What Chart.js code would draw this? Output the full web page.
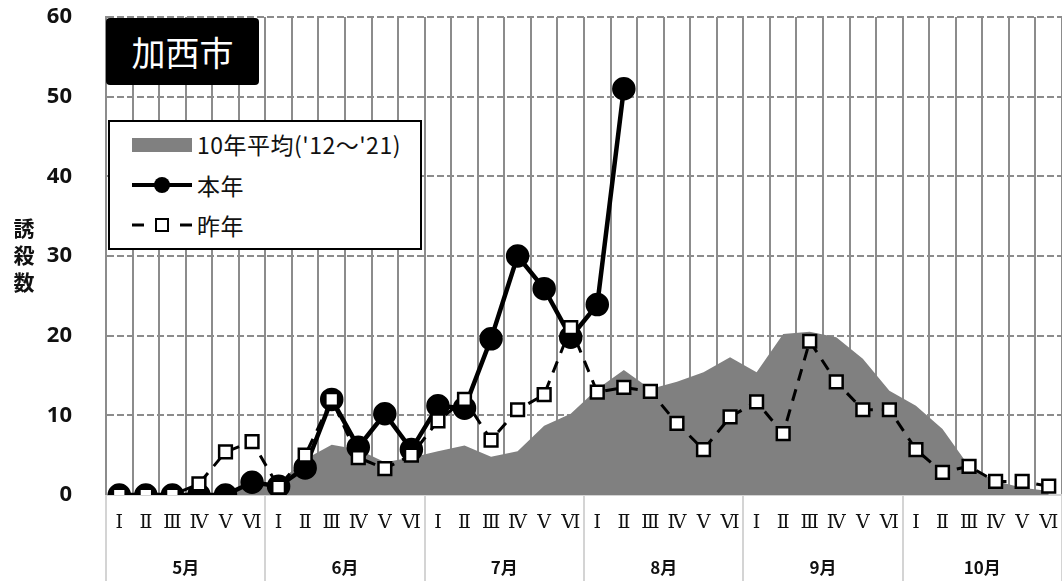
<!DOCTYPE html>
<html>
<head>
<meta charset="utf-8">
<script src="https://cdn.jsdelivr.net/npm/chart.js@4/dist/chart.umd.min.js"></script>
<style>
  html, body { margin: 0; padding: 0; background: #fff; }
  #wrap { position: relative; width: 1062px; height: 581px; font-family: "Noto Sans CJK JP", "Noto Sans", sans-serif; }
  #bp { position: absolute; left: 0; top: 0; }
  #city {
    position: absolute; left: 106px; top: 18px; width: 153px; height: 67px;
    background: #000; color: #fff; border-radius: 4px;
    font-size: 34px; line-height: 67px; text-align: center;
  }
  #ytitle {
    position: absolute; left: 12px; top: 214px; width: 24px;
    font-size: 21px; font-weight: bold; line-height: 27px; text-align: center; color: #111;
  }
  #legend {
    position: absolute; left: 108px; top: 120px; width: 310px; height: 126px;
    border: 2px solid #000; background: #fff; font-size: 23px; color: #111;
  }
  .row { position: absolute; left: 0; height: 30px; line-height: 30px; }
  .row span { position: absolute; left: 87px; white-space: nowrap; letter-spacing: 0.5px; }
  .row svg { position: absolute; left: 20px; top: 0; }
</style>
</head>
<body>
<div id="wrap">
  <canvas id="bp" width="1062" height="581"></canvas>
  <div id="city">加西市</div>
  <div id="ytitle">誘<br>殺<br>数</div>
  <div id="legend">
    <div class="row" style="top:7px">
      <svg width="64" height="30"><rect x="2" y="9" width="60" height="14" fill="#808080"/></svg>
      <span>10年平均('12～'21)</span>
    </div>
    <div class="row" style="top:48px">
      <svg width="64" height="30"><line x1="2" y1="15" x2="62" y2="15" stroke="#000" stroke-width="4"/><circle cx="32" cy="15" r="8" fill="#000"/></svg>
      <span>本年</span>
    </div>
    <div class="row" style="top:88px">
      <svg width="64" height="30"><line x1="2" y1="15" x2="14" y2="15" stroke="#000" stroke-width="3"/><line x1="50" y1="15" x2="62" y2="15" stroke="#000" stroke-width="3"/><rect x="26" y="9" width="12" height="12" fill="#fff" stroke="#000" stroke-width="2"/></svg>
      <span>昨年</span>
    </div>
  </div>
</div>
<script>
const months = ["5月", "6月", "7月", "8月", "9月", "10月"];
const periods = ["Ⅰ", "Ⅱ", "Ⅲ", "Ⅳ", "Ⅴ", "Ⅵ"];
const yTicks = [0, 10, 20, 30, 40, 50, 60];

// 10-year average ('12-'21)
const avg10 = [0, 0, 0, 0.1, 0.3, 1.0, 1.5, 4.5, 6.3, 5.7, 4.1, 4.7,
  5.5, 6.2, 4.8, 5.5, 8.7, 10.2, 13.3, 15.7, 13.3, 14.2, 15.4, 17.3,
  15.4, 20.2, 20.5, 19.8, 17.1, 13.1, 11.2, 8.3, 3.6, 1.75, 0.9, 0.5];
// this year
const thisYear = [0, 0, 0, 0, 0, 1.6, 1.1, 3.4, 12.0, 6.0, 10.2, 5.7,
  11.2, 10.9, 19.6, 30, 25.9, 19.8, 23.9, 51];
// last year
const lastYear = [0, 0, 0, 1.4, 5.4, 6.7, 1.0, 5.0, 12.0, 4.7, 3.3, 5.0,
  9.3, 12.0, 6.9, 10.7, 12.6, 21.0, 12.9, 13.5, 13.0, 9.0, 5.7, 9.8,
  11.7, 7.7, 19.3, 14.2, 10.7, 10.7, 5.7, 2.85, 3.6, 1.7, 1.7, 1.1];

const labels = [];
months.forEach((m) => periods.forEach((p) => labels.push(m + p)));

// month row + separators under the numerals
const monthRow = {
  id: "monthRow",
  afterDraw(chart) {
    const { ctx } = chart;
    const x = chart.scales.x;
    const step = x.getPixelForValue(1) - x.getPixelForValue(0);
    ctx.save();
    ctx.strokeStyle = "#d4d4d4";
    ctx.lineWidth = 2;
    for (let i = 0; i <= months.length; i++) {
      const bx = x.getPixelForValue(i * periods.length) - step / 2;
      ctx.beginPath();
      ctx.moveTo(Math.round(bx), x.top);
      ctx.lineTo(Math.round(bx), chart.height);
      ctx.stroke();
    }
    ctx.fillStyle = "#111";
    ctx.font = "bold 17px 'Noto Sans CJK JP', sans-serif";
    ctx.textAlign = "center";
    ctx.textBaseline = "middle";
    months.forEach((m, i) => {
      const a = x.getPixelForValue(i * periods.length);
      const b = x.getPixelForValue(i * periods.length + periods.length - 1);
      ctx.fillText(m, (a + b) / 2, 568);
    });
    ctx.restore();
  },
};

function noPad(scale) {
  scale.paddingLeft = 0;
  scale.paddingRight = 0;
  scale.paddingTop = 0;
  scale.paddingBottom = 0;
}

const ctx = document.getElementById("bp").getContext("2d");
new Chart(ctx, {
  type: "line",
  data: {
    labels: labels,
    datasets: [
      {
        label: "昨年",
        data: lastYear,
        order: 0,
        borderColor: "#000",
        borderWidth: 3,
        borderDash: [12, 9],
        pointStyle: "rect",
        pointRadius: 9,
        pointBackgroundColor: "#fff",
        pointBorderColor: "#000",
        pointBorderWidth: 2.5,
        fill: false,
      },
      {
        label: "本年",
        data: thisYear,
        order: 1,
        borderColor: "#000",
        borderWidth: 4.5,
        pointStyle: "circle",
        pointRadius: 9.5,
        pointBackgroundColor: "#000",
        pointBorderColor: "#000",
        fill: false,
      },
      {
        label: "10年平均('12～'21)",
        data: avg10,
        order: 2,
        borderWidth: 0,
        borderColor: "rgba(0,0,0,0)",
        backgroundColor: "#808080",
        pointRadius: 0,
        fill: "origin",
      },
    ],
  },
  options: {
    responsive: false,
    animation: false,
    layout: { autoPadding: false, padding: { top: 17, right: 0, left: 0, bottom: 0 } },
    plugins: { legend: { display: false }, tooltip: { enabled: false } },
    scales: {
      x: {
        offset: true,
        grid: { offset: true, drawTicks: false, color: "#8c8c8c", lineWidth: 2 },
        border: { color: "#d4d4d4", width: 2 },
        ticks: {
          autoSkip: false,
          maxRotation: 0,
          padding: 17,
          color: "#111",
          font: { family: "'DejaVu Serif', 'Liberation Serif', serif", size: 19 },
          callback: (v, i) => periods[i % periods.length],
        },
        afterFit(scale) {
          scale.height = 86;
          noPad(scale);
        },
      },
      y: {
        min: yTicks[0],
        max: yTicks[yTicks.length - 1],
        afterBuildTicks(scale) { scale.ticks = yTicks.map((v) => ({ value: v })); },
        grid: {
          drawTicks: false,
          color: (c) => (c.tick && c.tick.value === 0 ? "rgba(0,0,0,0)" : "#8c8c8c"),
          lineWidth: 2,
        },
        border: { color: "#8c8c8c", width: 2, dash: [7, 3] },
        ticks: {
          padding: 34,
          color: "#111",
          font: { family: "'Open Sans', 'Noto Sans', sans-serif", size: 22, weight: "bold" },
        },
        afterFit(scale) {
          scale.width = 106;
          noPad(scale);
        },
      },
    },
  },
  plugins: [monthRow],
});
</script>
</body>
</html>
